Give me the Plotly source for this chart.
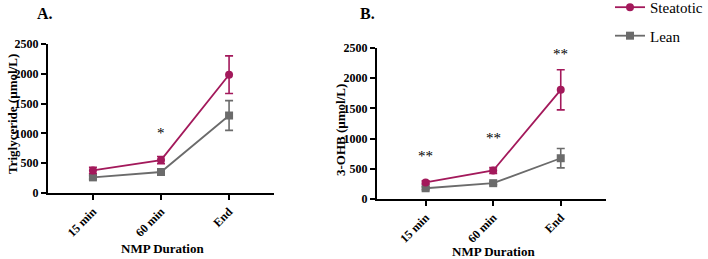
import plotly.graph_objects as go

categories = ["15 min", "60 min", "End"]

# Panel A: Triglyceride (µmol/L)
tg_steatotic = [378, 553, 1985]
tg_steatotic_err = [52, 60, 315]
tg_lean = [262, 352, 1300]
tg_lean_err = [30, 40, 250]

# Panel B: 3-OHB (µmol/L)
ohb_steatotic = [275, 472, 1808]
ohb_steatotic_err = [25, 48, 332]
ohb_lean = [178, 262, 675]
ohb_lean_err = [22, 25, 160]

yticks = [0, 500, 1000, 1500, 2000, 2500]

# significance markers (category, label, y position)
sig_a = [("60 min", "*", 1000)]
sig_b = [("15 min", "**", 720), ("60 min", "**", 1010), ("End", "**", 2400)]

RED = "#A3195B"
GRAY = "#6B6B6B"
FONT = "Liberation Serif, Times New Roman, serif"

fig = go.Figure()

def add_series(x, y, err, color, symbol, name, xa, ya, show):
    fig.add_trace(go.Scatter(
        x=x, y=y, name=name, mode="lines+markers",
        line=dict(color=color, width=1.8),
        marker=dict(color=color, symbol=symbol, size=8),
        error_y=dict(type="data", array=err, visible=True, color=color,
                     thickness=1.6, width=4),
        xaxis=xa, yaxis=ya, showlegend=show, hoverinfo="skip",
    ))

add_series(categories, tg_lean, tg_lean_err, GRAY, "square", "Lean", "x", "y", False)
add_series(categories, tg_steatotic, tg_steatotic_err, RED, "circle", "Steatotic", "x", "y", False)
add_series(categories, ohb_lean, ohb_lean_err, GRAY, "square", "Lean", "x2", "y2", False)
add_series(categories, ohb_steatotic, ohb_steatotic_err, RED, "circle", "Steatotic", "x2", "y2", False)

# legend entries (order: Steatotic, Lean)
for name, color, symbol in [("Steatotic", RED, "circle"), ("Lean", GRAY, "square")]:
    fig.add_trace(go.Scatter(
        x=[None], y=[None], name=name, mode="lines+markers",
        line=dict(color=color, width=1.8),
        marker=dict(color=color, symbol=symbol, size=8),
        xaxis="x", yaxis="y", showlegend=True, legendgroup=name,
    ))

W, H = 708, 259

axis_common = dict(
    showline=True, linecolor="black", linewidth=2, ticks="outside",
    tickcolor="black", tickwidth=2, ticklen=5, showgrid=False, zeroline=False,
    automargin=False,
    tickfont=dict(family=FONT, size=12, color="black", weight="bold"),
)

fig.update_layout(
    width=W, height=H,
    margin=dict(l=0, r=0, t=0, b=0, autoexpand=False),
    paper_bgcolor="white", plot_bgcolor="white",
    font=dict(family=FONT, color="black"),
    xaxis=dict(domain=[48 / W, 274 / W], type="category", categoryorder="array",
               categoryarray=categories, range=[-0.66, 2.66], tickangle=-45,
               anchor="y", **axis_common),
    yaxis=dict(domain=[(H - 193) / H, (H - 44) / H], range=[0, 2500],
               tickvals=yticks, anchor="x", **axis_common),
    xaxis2=dict(domain=[377 / W, 606 / W], type="category", categoryorder="array",
                categoryarray=categories, range=[-0.72, 2.67], tickangle=-45,
                anchor="y2", **axis_common),
    yaxis2=dict(domain=[(H - 199) / H, (H - 48) / H], range=[0, 2500],
                tickvals=yticks, anchor="x2", **axis_common),
    legend=dict(x=1.0, y=1.035, xanchor="right", yanchor="top",
                font=dict(family=FONT, size=15, color="black"),
                bgcolor="rgba(0,0,0,0)", tracegroupgap=6, itemwidth=30),
)

annotations = [
    dict(text="<b>A.</b>", x=35, y=259 - 13, xanchor="left"),
    dict(text="<b>B.</b>", x=358, y=259 - 13, xanchor="left"),
    dict(text="<b>Triglyceride (µmol/L)</b>", x=12, y=259 - 114, textangle=-90, size=13),
    dict(text="<b>3-OHB (µmol/L)</b>", x=340, y=259 - 130, textangle=-90, size=13),
    dict(text="<b>NMP Duration</b>", x=162, y=259 - 248, size=13),
    dict(text="<b>NMP Duration</b>", x=494, y=259 - 251, size=13),
]
final_ann = []
for a in annotations:
    final_ann.append(dict(
        text=a["text"], x=a["x"] / W, y=a["y"] / H, xref="paper", yref="paper",
        showarrow=False, textangle=a.get("textangle", 0),
        xanchor=a.get("xanchor", "center"), yanchor="middle",
        font=dict(family=FONT, color="black", size=a.get("size", 16)),
    ))

for cat, lab, yv in sig_a:
    final_ann.append(dict(text=lab, x=cat, y=yv, xref="x", yref="y", showarrow=False,
                          font=dict(family=FONT, size=15, color="black")))
for cat, lab, yv in sig_b:
    final_ann.append(dict(text=lab, x=cat, y=yv, xref="x2", yref="y2", showarrow=False,
                          font=dict(family=FONT, size=15, color="black")))

fig.update_layout(annotations=final_ann)

fig.write_html(
    "out.html",
    config={"displayModeBar": False},
    post_script="document.body.style.margin='0';document.body.style.overflow='hidden';",
)
